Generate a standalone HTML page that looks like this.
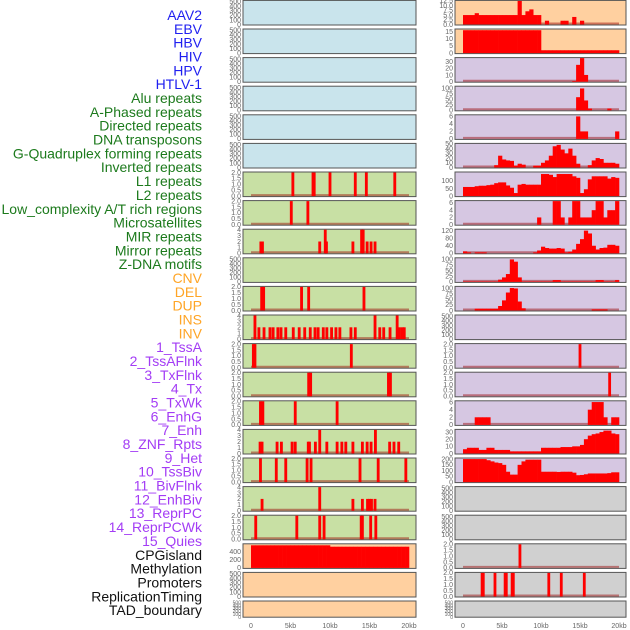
<!DOCTYPE html>
<html><head><meta charset="utf-8">
<style>
html,body{margin:0;padding:0;background:#fff;}
svg{display:block;}
</style></head>
<body>
<svg id="chart" width="630" height="630" viewBox="0 0 630 630" xmlns="http://www.w3.org/2000/svg" font-family="Liberation Sans, sans-serif"></svg>
<script>
// ---------- labels ----------
const trackLabels = ["AAV2","EBV","HBV","HIV","HPV","HTLV-1","Alu repeats","A-Phased repeats","Directed repeats","DNA transposons","G-Quadruplex forming repeats","Inverted repeats","L1 repeats","L2 repeats","Low_complexity A/T rich regions","Microsatellites","MIR repeats","Mirror repeats","Z-DNA motifs","CNV","DEL","DUP","INS","INV","1_TssA","2_TssAFlnk","3_TxFlnk","4_Tx","5_TxWk","6_EnhG","7_Enh","8_ZNF_Rpts","9_Het","10_TssBiv","11_BivFlnk","12_EnhBiv","13_ReprPC","14_ReprPCWk","15_Quies","CPGisland","Methylation","Promoters","ReplicationTiming","TAD_boundary"];
const xTickValues = [0,5,10,15,20];
const xTickLabels = ["0","5kb","10kb","15kb","20kb"];

// ---------- sparse tracks (position kb, value) ----------
const aluPos=[5.3,7.85,8.0,10.0,13.2,14.6,18.2]; const aluVal=[2,2,2,2,2,2,2];
const aphasedPos=[5.1,7.2]; const aphasedVal=[2,2];
const directedPos=[1.25,1.45,8.7,9.4,9.55,12.9,14.0,14.2,14.7,15.2,15.7]; const directedVal=[2,2,2,4,2,2,4,4,2,2,2];
const gquadPos=[1.35,1.6,6.4,7.3,14.3]; const gquadVal=[2,2,2,2,2];
const invertedPos=[0.5,1.0,1.65,2.4,2.8,3.4,3.8,4.4,5.35,6.1,6.8,7.5,8.1,8.5,9.15,9.6,10.2,10.75,11.25,12.65,13.2,15.7,16.3,16.8,17.6,18.5,18.8,19.15,19.4];
const invertedVal=[4,2,2,2,2,2,2,2,2,2,2,2,2,2,2,2,2,2,2,2,2,4,2,2,2,4,2,2,2];
const lowcompPos=[0.3,0.5,12.7]; const lowcompVal=[2,2,2];
const microPos=[7.3,7.55,17.4,17.65]; const microVal=[2,2,2,2];
const mirPos=[1.2,1.5,5.6,10.9]; const mirVal=[2,2,2,2];
const mirrorPos=[1.15,1.4,3.3,3.85,5.2,5.6,7.25,7.4,8.15,8.7,9.6,10.9,11.5,12.0,12.9,14.1,14.7,15.2,15.75,17.55,18.1,18.7];
const mirrorVal=[2,2,2,2,2,2,2,2,2,4,2,2,2,2,2,2,2,2,4,2,2,2];
const zdnaPos=[1.2,3.2,4.4,7.1,7.6,13.8,16.1,19.6]; const zdnaVal=[2,2,2,2,2,2,2,2];
const cnvPos=[1.4,8.7,12.9,14.1,14.75,15.0,15.25,15.7]; const cnvVal=[2,4,2,2,2,2,2,2];
const delPos=[0.6,5.8,8.7,9.25,13.95,14.1,15.15,15.8]; const delVal=[2,2,2,2,2,2,2,2];
const bivflnkPos=[15.0]; const bivflnkVal=[2];
const enhbivPos=[18.8]; const enhbivVal=[2];
const promPos=[7.3]; const promVal=[2];
const replPos=[2.45,2.6,4.1,5.4,5.55,6.3,6.45,11.0,12.6,15.55]; const replVal=[2,2,2,2,2,2,2,2,2,2];

// ---------- binned tracks (0.5kb bins, 0..20kb) ----------
const dupBins=[565,565,565,565,565,565,565,565,565,565,565,565,565,565,565,565,565,565,565,565,530,530,530,530,530,530,530,530,530,530,530,530,530,530,530,530,530,530,530,530];
const insBins=[5,5,5,6,5,5,5,5,5,5,5,5,5,5,12.5,5,7,8,5,5,0,2,0,0,0,2,2,0,4,0,2,0,0,0,0,0,0,0,0,0];
const invBins=[16,16,16,16,16,16,16,16,16,16,16,16,16,16,16,16,16,16,16,16,2,2,2,2,2,2,2,2,2,2,2,2,2,2,2,2,2,2,2,2];
const tssaBins=[0,0,0,0,0,0,0,0,0,0,0,0,0,0,0,0,0,0,0,0,0,0,0,0,0,0,0,0,1,25,35,10,0,0,0,0,0,0,0,0];
const tssaflnkBins=[0,0,0,0,0,0,0,0,0,0,0,0,0,0,0,0,0,0,0,0,0,0,0,0,0,0,0,0,0,60,100,45,8,0,0,0,0,8,0,0];
const txflnkBins=[0,0,0,0,0,0,0,0,0,0,0,0,0,0,0,0,0,0,0,0,0,0,0,0,0,0,0,0,0,6,2,2,0,0,0,0,0,0,0,2];
const txBins=[0,0,0,0,0,0,0,0,5,25,17,15,14,4,8,6,0,0,4,4,10,15,25,45,48,38,30,40,25,8,0,0,5,15,20,18,10,10,10,8];
const txwkBins=[60,60,60,65,68,68,72,75,85,90,90,70,55,20,75,80,75,75,75,75,145,145,140,125,145,145,145,145,130,120,20,45,110,130,130,130,130,115,125,120];
const enhgBins=[0,0,0,0,0,0,0,0,0,0,0,0,0,0,0,0,0,0,0,2,0,0,0,6.5,6.5,2,0,2,6.5,6.5,2,2,2,4,6.5,6.5,2,4,4,6.5];
const enhBins=[10,5,0,5,5,5,0,0,0,0,0,0,0,0,0,0,0,0,5,15,35,28,25,25,28,25,5,8,20,50,75,120,105,40,20,28,30,45,45,40];
const znfBins=[2,2,2,2,2,2,2,2,2,10,20,35,100,90,20,2,2,2,2,2,2,2,2,8,8,2,2,2,2,2,2,2,2,2,8,8,2,2,2,8];
const hetBins=[0,0,0,8,8,8,8,8,8,20,45,80,100,98,40,10,0,0,0,0,0,0,0,0,0,0,0,0,0,0,0,0,0,5,5,5,5,0,0,0];
const reprpcBins=[0,0,0,2,2,2,2,0,0,0,0,0,0,0,0,0,0,0,0,0,0,0,0,0,0,0,0,0,0,0,0,0,4,6,6,6,2,0,2,2];
const reprpcwkBins=[6,8,8,8,5,5,8,8,5,5,5,5,3,3,3,3,3,3,3,3,8,8,8,8,8,9,9,9,10,10,12,20,25,27,28,30,32,32,28,27];
const quiesBins=[200,200,200,200,200,200,190,180,170,165,150,90,65,65,150,180,195,195,195,195,90,90,90,90,88,90,90,90,82,60,62,68,75,75,75,75,75,78,85,85];

// ---------- track layout (col, row, bg, ymax, ticks, data) ----------
const BLUE="#c9e4ec",GREEN="#c8e0a4",PEACH="#ffd0a0",PURP="#d6c7e2",GRAY="#d0d0d0";
const T500=[0,100,200,300,400,500], T2=[0,0.5,1,1.5,2], T4=[0,1,2,3,4];
const tracks=[
 {c:0,r:0,bg:BLUE,ymax:520,ticks:T500},{c:0,r:1,bg:BLUE,ymax:520,ticks:T500},{c:0,r:2,bg:BLUE,ymax:520,ticks:T500},
 {c:0,r:3,bg:BLUE,ymax:520,ticks:T500},{c:0,r:4,bg:BLUE,ymax:520,ticks:T500},{c:0,r:5,bg:BLUE,ymax:520,ticks:T500},
 {c:0,r:6,bg:GREEN,ymax:2,ticks:T2,pos:aluPos,val:aluVal},
 {c:0,r:7,bg:GREEN,ymax:2,ticks:T2,pos:aphasedPos,val:aphasedVal},
 {c:0,r:8,bg:GREEN,ymax:4,ticks:T4,pos:directedPos,val:directedVal},
 {c:0,r:9,bg:GREEN,ymax:520,ticks:T500},
 {c:0,r:10,bg:GREEN,ymax:2,ticks:T2,pos:gquadPos,val:gquadVal},
 {c:0,r:11,bg:GREEN,ymax:4,ticks:T4,pos:invertedPos,val:invertedVal},
 {c:0,r:12,bg:GREEN,ymax:2,ticks:T2,pos:lowcompPos,val:lowcompVal},
 {c:0,r:13,bg:GREEN,ymax:2,ticks:T2,pos:microPos,val:microVal},
 {c:0,r:14,bg:GREEN,ymax:2,ticks:T2,pos:mirPos,val:mirVal},
 {c:0,r:15,bg:GREEN,ymax:4,ticks:T4,pos:mirrorPos,val:mirrorVal},
 {c:0,r:16,bg:GREEN,ymax:2,ticks:T2,pos:zdnaPos,val:zdnaVal},
 {c:0,r:17,bg:GREEN,ymax:4,ticks:T4,pos:cnvPos,val:cnvVal},
 {c:0,r:18,bg:GREEN,ymax:2,ticks:T2,pos:delPos,val:delVal},
 {c:0,r:19,bg:PEACH,ymax:590,ticks:[0,200,400],bins:dupBins},
 {c:0,r:20,bg:PEACH,ymax:520,ticks:T500},{c:0,r:21,bg:PEACH,ymax:520,ticks:T500},
 {c:1,r:0,bg:PEACH,ymax:12.5,ticks:[0,2.5,5,7.5,10,12.5],bins:insBins,fmt:1},
 {c:1,r:1,bg:PEACH,ymax:16.5,ticks:[0,5,10,15],bins:invBins},
 {c:1,r:2,bg:PURP,ymax:35,ticks:[0,10,20,30],bins:tssaBins},
 {c:1,r:3,bg:PURP,ymax:108,ticks:[0,25,50,75,100],bins:tssaflnkBins},
 {c:1,r:4,bg:PURP,ymax:6.3,ticks:[0,2,4,6],bins:txflnkBins},
 {c:1,r:5,bg:PURP,ymax:50,ticks:[0,10,20,30,40,50],bins:txBins},
 {c:1,r:6,bg:PURP,ymax:155,ticks:[0,50,100],bins:txwkBins},
 {c:1,r:7,bg:PURP,ymax:6.5,ticks:[0,2,4,6],bins:enhgBins},
 {c:1,r:8,bg:PURP,ymax:125,ticks:[0,40,80,120],bins:enhBins},
 {c:1,r:9,bg:PURP,ymax:105,ticks:[0,25,50,75,100],bins:znfBins},
 {c:1,r:10,bg:PURP,ymax:105,ticks:[0,25,50,75,100],bins:hetBins},
 {c:1,r:11,bg:PURP,ymax:520,ticks:T500},
 {c:1,r:12,bg:PURP,ymax:2,ticks:T2,pos:bivflnkPos,val:bivflnkVal},
 {c:1,r:13,bg:PURP,ymax:2,ticks:T2,pos:enhbivPos,val:enhbivVal},
 {c:1,r:14,bg:PURP,ymax:6.2,ticks:[0,2,4,6],bins:reprpcBins},
 {c:1,r:15,bg:PURP,ymax:33,ticks:[0,10,20,30],bins:reprpcwkBins},
 {c:1,r:16,bg:PURP,ymax:205,ticks:[0,50,100,150,200],bins:quiesBins},
 {c:1,r:17,bg:GRAY,ymax:520,ticks:T500},{c:1,r:18,bg:GRAY,ymax:520,ticks:T500},
 {c:1,r:19,bg:GRAY,ymax:2,ticks:T2,pos:promPos,val:promVal},
 {c:1,r:20,bg:GRAY,ymax:2,ticks:T2,pos:replPos,val:replVal},
 {c:1,r:21,bg:GRAY,ymax:520,ticks:T500}
];

const NS="http://www.w3.org/2000/svg";
const svg=document.getElementById('chart');
function mk(tag,attrs,parent){const e=document.createElementNS(NS,tag);for(const k in attrs)e.setAttribute(k,attrs[k]);(parent||svg).appendChild(e);return e;}

const colX=[{left:243,right:416,x0:251,scale:7.9},{left:455,right:626,x0:463,scale:7.8}];
function rowTop(r){return 0.4+28.6*r;}
function rowH(r){return r===21?16.2:24.6;}
function xScale(c,kb){return colX[c].x0+kb*colX[c].scale;}

// labels
const labelColors=i=> i<6?"#1f1ff0": i<19?"#1c7a1c": i<24?"#ffa526": i<39?"#a33cf5":"#111111";
trackLabels.forEach((t,i)=>{
  const el=mk('text',{x:202,y:15+13.84*i+5,'text-anchor':'end','font-size':14,fill:labelColors(i)});
  el.textContent=t;
  
  
});

tracks.forEach((tr,idx)=>{
  const top=rowTop(tr.r),h=rowH(tr.r),c=tr.c,cx=colX[c];
  const g=mk('g',{});
  
  
  const bg=mk('rect',{x:cx.left,y:top,width:cx.right-cx.left,height:h,fill:tr.bg,stroke:'#555',"stroke-width":1},g);
  
  
  const bottom=top+h-0.5;
  const yS=v=>bottom-v/tr.ymax*(h-1);
  // y ticks
  tr.ticks.forEach(v=>{
    const t=mk('text',{x:cx.left-2,y:yS(v)+2.3,'text-anchor':'end','font-size':tr.r===21?5:7,fill:'#666'},g);
    t.textContent=(tr.ticks===T2||tr.fmt)?v.toFixed(1):String(v);
    
    
  });
  const hasData=tr.pos||tr.bins;
  if(hasData){
    const bl=mk('line',{x1:xScale(c,0),x2:xScale(c,20),y1:bottom-1,y2:bottom-1,stroke:'rgba(150,0,0,0.45)','stroke-width':2},g);
    
    
  }
  if(tr.bins){
    const bw=20/tr.bins.length;
    tr.bins.forEach((v,i)=>{
      if(v<=0)return;
      const x1=xScale(c,i*bw),x2=xScale(c,(i+1)*bw);
      const b=mk('rect',{x:x1,y:yS(v),width:x2-x1+0.3,height:bottom-yS(v),fill:'#ff0000'},g);
      
      
    });
  }
  if(tr.pos){
    tr.pos.forEach((p,i)=>{
      const v=tr.val[i];
      const x1=xScale(c,p-0.18),x2=xScale(c,p+0.18);
      const b=mk('rect',{x:x1,y:yS(v),width:x2-x1,height:bottom-yS(v),fill:'#ff0000'},g);
      
      
    });
  }
});

// x axes
[0,1].forEach(c=>{
  xTickValues.forEach((v,i)=>{
    const t=mk('text',{x:xScale(c,v),y:628,'text-anchor':'middle','font-size':7,fill:'#666'});
    t.textContent=xTickLabels[i];
    
    
  });
});
</script>
</body></html>
